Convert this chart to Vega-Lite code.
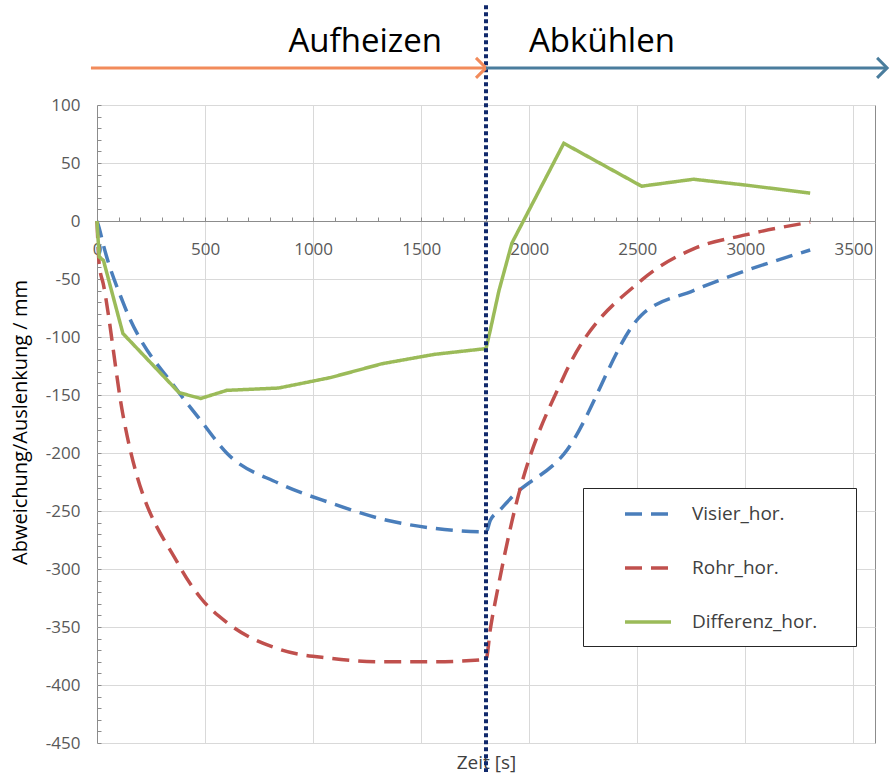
{
  "$schema": "https://vega.github.io/schema/vega-lite/v6.json",
  "width": 778,
  "height": 638,
  "autosize": {"type": "none"},
  "padding": {"left": 97, "top": 105, "right": 15, "bottom": 30},
  "background": "white",
  "config": {
    "view": {"stroke": "#8c8c8c", "strokeWidth": 1},
    "font": "Open Sans",
    "axis": {"labelFont": "Open Sans", "titleFont": "Open Sans", "labelColor": "#595959", "titleColor": "#404040", "gridColor": "#d9d9d9", "tickColor": "#8c8c8c", "domainColor": "#8c8c8c", "titleFontWeight": "normal"}
  },
  "datasets": {
    "series": [
      {"t": 0, "v": 0, "series": "Visier_hor."},
      {"t": 10, "v": -6, "series": "Visier_hor."},
      {"t": 30, "v": -21, "series": "Visier_hor."},
      {"t": 120, "v": -70, "series": "Visier_hor."},
      {"t": 380, "v": -148, "series": "Visier_hor."},
      {"t": 480, "v": -172, "series": "Visier_hor."},
      {"t": 600, "v": -200, "series": "Visier_hor."},
      {"t": 840, "v": -226, "series": "Visier_hor."},
      {"t": 1080, "v": -243, "series": "Visier_hor."},
      {"t": 1320, "v": -257, "series": "Visier_hor."},
      {"t": 1560, "v": -265, "series": "Visier_hor."},
      {"t": 1800, "v": -268, "series": "Visier_hor."},
      {"t": 1820, "v": -258, "series": "Visier_hor."},
      {"t": 1860, "v": -250, "series": "Visier_hor."},
      {"t": 1920, "v": -238, "series": "Visier_hor."},
      {"t": 2160, "v": -201, "series": "Visier_hor."},
      {"t": 2520, "v": -81, "series": "Visier_hor."},
      {"t": 2760, "v": -60, "series": "Visier_hor."},
      {"t": 3000, "v": -43, "series": "Visier_hor."},
      {"t": 3300, "v": -25, "series": "Visier_hor."},
      {"t": 0, "v": 0, "series": "Rohr_hor."},
      {"t": 10, "v": -37, "series": "Rohr_hor."},
      {"t": 30, "v": -55, "series": "Rohr_hor."},
      {"t": 120, "v": -167, "series": "Rohr_hor."},
      {"t": 380, "v": -297, "series": "Rohr_hor."},
      {"t": 480, "v": -325, "series": "Rohr_hor."},
      {"t": 600, "v": -346, "series": "Rohr_hor."},
      {"t": 840, "v": -369, "series": "Rohr_hor."},
      {"t": 1080, "v": -377, "series": "Rohr_hor."},
      {"t": 1320, "v": -380, "series": "Rohr_hor."},
      {"t": 1560, "v": -380, "series": "Rohr_hor."},
      {"t": 1800, "v": -378, "series": "Rohr_hor."},
      {"t": 1820, "v": -352, "series": "Rohr_hor."},
      {"t": 1860, "v": -312, "series": "Rohr_hor."},
      {"t": 1920, "v": -259, "series": "Rohr_hor."},
      {"t": 2160, "v": -134, "series": "Rohr_hor."},
      {"t": 2520, "v": -51, "series": "Rohr_hor."},
      {"t": 2760, "v": -24, "series": "Rohr_hor."},
      {"t": 3000, "v": -12, "series": "Rohr_hor."},
      {"t": 3300, "v": -1, "series": "Rohr_hor."},
      {"t": 0, "v": 0, "series": "Differenz_hor."},
      {"t": 10, "v": -31, "series": "Differenz_hor."},
      {"t": 30, "v": -34, "series": "Differenz_hor."},
      {"t": 120, "v": -97, "series": "Differenz_hor."},
      {"t": 380, "v": -148, "series": "Differenz_hor."},
      {"t": 480, "v": -153, "series": "Differenz_hor."},
      {"t": 600, "v": -146, "series": "Differenz_hor."},
      {"t": 840, "v": -144, "series": "Differenz_hor."},
      {"t": 1080, "v": -135, "series": "Differenz_hor."},
      {"t": 1320, "v": -123, "series": "Differenz_hor."},
      {"t": 1560, "v": -115, "series": "Differenz_hor."},
      {"t": 1800, "v": -110, "series": "Differenz_hor."},
      {"t": 1820, "v": -94, "series": "Differenz_hor."},
      {"t": 1860, "v": -60, "series": "Differenz_hor."},
      {"t": 1920, "v": -19, "series": "Differenz_hor."},
      {"t": 2160, "v": 67, "series": "Differenz_hor."},
      {"t": 2520, "v": 30, "series": "Differenz_hor."},
      {"t": 2760, "v": 36, "series": "Differenz_hor."},
      {"t": 3000, "v": 31, "series": "Differenz_hor."},
      {"t": 3300, "v": 24, "series": "Differenz_hor."}
    ],
    "split": [{"t": 1800, "top": 186, "bottom": -475}],
    "phases": [
      {"phase": "Aufheizen", "start": -28, "end": 1800, "level": 132},
      {"phase": "Abkühlen", "start": 1800, "end": 3656, "level": 132}
    ]
  },
  "layer": [
    {
      "data": {"name": "series"},
      "transform": [{"filter": "datum.series !== 'Differenz_hor.'"}],
      "mark": {"type": "line", "interpolate": "monotone", "strokeWidth": 3.5, "clip": false},
      "encoding": {
        "x": {"field": "t", "type": "quantitative", "title": "Zeit [s]", "scale": {"domain": [0, 3600], "nice": false, "zero": false},
          "axis": {"title": "Zeit [s]", "tickCount": 36,
            "offset": -522, "domain": true, "ticks": true, "tickSize": -4,
            "grid": true, "gridOpacity": {"condition": {"test": "datum.value % 500 === 0 && datum.value > 0", "value": 1}, "value": 0},
            "labelExpr": "datum.value % 500 === 0 && datum.value <= 3500 ? '' + datum.value : ''",
            "labelFontSize": 17, "labelPadding": 24, "labelOverlap": false, "labelFlush": false, "labelBound": false,
            "titleFontSize": 19, "titleY": 541, "titleBaseline": "middle"}},
        "y": {"field": "v", "type": "quantitative", "title": "Abweichung/Auslenkung / mm", "scale": {"domain": [-450, 100], "nice": false, "zero": false},
          "axis": {"title": "Abweichung/Auslenkung / mm", "tickCount": 55,
            "domain": false, "ticks": true, "tickSize": -4,
            "grid": true, "gridOpacity": {"condition": {"test": "datum.value % 50 === 0", "value": 1}, "value": 0},
            "labelExpr": "datum.value % 50 === 0 ? '' + datum.value : ''",
            "labelFontSize": 17, "labelPadding": 21, "labelOverlap": false, "labelBound": false,
            "titleFontSize": 20, "titleColor": "#000000", "titleX": -77, "titleY": 317, "titleAlign": "center", "titleBaseline": "middle"}},
        "color": {"field": "series", "type": "nominal",
          "scale": {"domain": ["Visier_hor.", "Rohr_hor.", "Differenz_hor."], "range": ["#4a7ebb", "#c0504d", "#9bbb59"]},
          "legend": {"orient": "none", "legendX": 486, "legendY": 383, "title": null, "padding": 14, "strokeColor": "#262626", "fillColor": "#ffffff",
            "symbolType": "M -2.3 0 L 2.3 0", "symbolSize": 400, "symbolStrokeWidth": 3.5, "symbolOffset": 39, "labelOffset": 32, "rowPadding": 32,
            "labelFontSize": 19, "labelColor": "#404040", "labelFont": "Open Sans", "labelLimit": 400, "labelExpr": "datum.label + '\u00a0\u00a0\u00a0\u00a0\u00a0\u200b'"}},
        "strokeDash": {"field": "series", "type": "nominal",
          "scale": {"domain": ["Visier_hor.", "Rohr_hor.", "Differenz_hor."], "range": [[17, 9], [17, 9], [1, 0]]},
          "legend": {"orient": "none", "legendX": 486, "legendY": 383, "title": null, "padding": 14, "strokeColor": "#262626", "fillColor": "#ffffff",
            "symbolType": "M -2.3 0 L 2.3 0", "symbolSize": 400, "symbolStrokeWidth": 3.5, "symbolOffset": 39, "labelOffset": 32, "rowPadding": 32,
            "labelFontSize": 19, "labelColor": "#404040", "labelFont": "Open Sans", "labelLimit": 400, "labelExpr": "datum.label + '\u00a0\u00a0\u00a0\u00a0\u00a0\u200b'"}}
      }
    },
    {
      "data": {"name": "series"},
      "transform": [{"filter": "datum.series === 'Differenz_hor.'"}],
      "mark": {"type": "line", "interpolate": "linear", "strokeWidth": 3.5, "clip": false},
      "encoding": {
        "x": {"field": "t", "type": "quantitative", "title": "Zeit [s]", "scale": {"domain": [0, 3600], "nice": false, "zero": false}},
        "y": {"field": "v", "type": "quantitative", "title": "Abweichung/Auslenkung / mm", "scale": {"domain": [-450, 100], "nice": false, "zero": false}},
        "color": {"field": "series", "type": "nominal",
          "scale": {"domain": ["Visier_hor.", "Rohr_hor.", "Differenz_hor."], "range": ["#4a7ebb", "#c0504d", "#9bbb59"]}},
        "strokeDash": {"field": "series", "type": "nominal",
          "scale": {"domain": ["Visier_hor.", "Rohr_hor.", "Differenz_hor."], "range": [[17, 9], [17, 9], [1, 0]]}}
      }
    },
    {
      "data": {"name": "split"},
      "mark": {"type": "rule", "color": "#10296b", "strokeWidth": 4, "strokeDash": [4, 3], "clip": false},
      "encoding": {
        "x": {"field": "t", "type": "quantitative", "title": "Zeit [s]", "scale": {"domain": [0, 3600], "nice": false, "zero": false}},
        "y": {"field": "top", "type": "quantitative", "title": "Abweichung/Auslenkung / mm", "scale": {"domain": [-450, 100], "nice": false, "zero": false}},
        "y2": {"field": "bottom"}
      }
    },
    {
      "data": {"name": "phases"},
      "transform": [{"filter": "datum.phase === 'Aufheizen'"}],
      "layer": [
        {
          "mark": {"type": "rule", "color": "#f28b5b", "strokeWidth": 3, "clip": false},
          "encoding": {
            "x": {"field": "start", "type": "quantitative", "title": "Zeit [s]", "scale": {"domain": [0, 3600], "nice": false, "zero": false}},
            "x2": {"field": "end"},
            "y": {"field": "level", "type": "quantitative", "title": "Abweichung/Auslenkung / mm", "scale": {"domain": [-450, 100], "nice": false, "zero": false}}
          }
        },
        {
          "mark": {"type": "point", "shape": "M -1 -1 L 0 0 L -1 1", "size": 400, "filled": false, "color": "#f28b5b", "strokeWidth": 3, "opacity": 1, "clip": false},
          "encoding": {
            "x": {"field": "end", "type": "quantitative", "title": "Zeit [s]", "scale": {"domain": [0, 3600], "nice": false, "zero": false}},
            "y": {"field": "level", "type": "quantitative", "title": "Abweichung/Auslenkung / mm", "scale": {"domain": [-450, 100], "nice": false, "zero": false}}
          }
        },
        {
          "mark": {"type": "text", "align": "right", "baseline": "middle", "dx": -44, "dy": -26, "fontSize": 33, "font": "Open Sans", "color": "#000000", "clip": false},
          "encoding": {
            "x": {"field": "end", "type": "quantitative", "title": "Zeit [s]", "scale": {"domain": [0, 3600], "nice": false, "zero": false}},
            "y": {"field": "level", "type": "quantitative", "title": "Abweichung/Auslenkung / mm", "scale": {"domain": [-450, 100], "nice": false, "zero": false}},
            "text": {"field": "phase"}
          }
        }
      ]
    },
    {
      "data": {"name": "phases"},
      "transform": [{"filter": "datum.phase === 'Abkühlen'"}],
      "layer": [
        {
          "mark": {"type": "rule", "color": "#4a7d9d", "strokeWidth": 3, "clip": false},
          "encoding": {
            "x": {"field": "start", "type": "quantitative", "title": "Zeit [s]", "scale": {"domain": [0, 3600], "nice": false, "zero": false}},
            "x2": {"field": "end"},
            "y": {"field": "level", "type": "quantitative", "title": "Abweichung/Auslenkung / mm", "scale": {"domain": [-450, 100], "nice": false, "zero": false}}
          }
        },
        {
          "mark": {"type": "point", "shape": "M -1 -1 L 0 0 L -1 1", "size": 400, "filled": false, "color": "#4a7d9d", "strokeWidth": 3, "opacity": 1, "clip": false},
          "encoding": {
            "x": {"field": "end", "type": "quantitative", "title": "Zeit [s]", "scale": {"domain": [0, 3600], "nice": false, "zero": false}},
            "y": {"field": "level", "type": "quantitative", "title": "Abweichung/Auslenkung / mm", "scale": {"domain": [-450, 100], "nice": false, "zero": false}}
          }
        },
        {
          "mark": {"type": "text", "align": "left", "baseline": "middle", "dx": 43, "dy": -26, "fontSize": 33, "font": "Open Sans", "color": "#000000", "clip": false},
          "encoding": {
            "x": {"field": "start", "type": "quantitative", "title": "Zeit [s]", "scale": {"domain": [0, 3600], "nice": false, "zero": false}},
            "y": {"field": "level", "type": "quantitative", "title": "Abweichung/Auslenkung / mm", "scale": {"domain": [-450, 100], "nice": false, "zero": false}},
            "text": {"field": "phase"}
          }
        }
      ]
    }
  ]
}
